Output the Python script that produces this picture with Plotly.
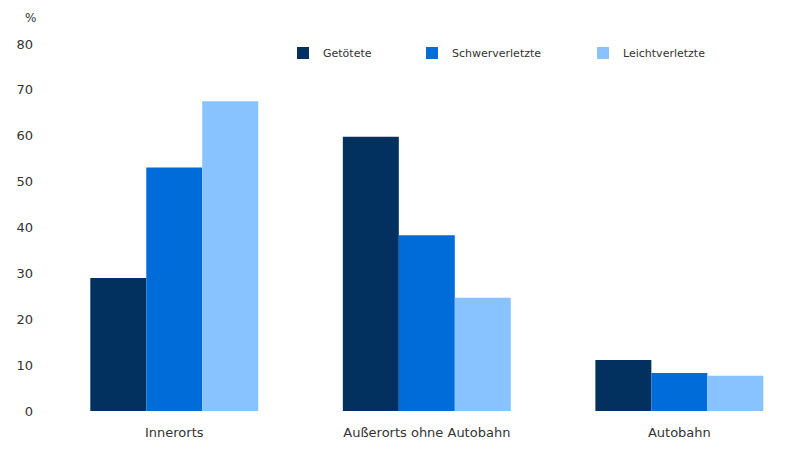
import plotly.graph_objects as go

categories = ["Innerorts", "Außerorts ohne Autobahn", "Autobahn"]
series_names = ["Getötete", "Schwerverletzte", "Leichtverletzte"]
getoetete = [29.0, 59.8, 11.1]
schwerverletzte = [53.1, 38.3, 8.3]
leichtverletzte = [67.5, 24.7, 7.7]
y_ticks = [0, 10, 20, 30, 40, 50, 60, 70, 80]

colors = ["#02315F", "#006CD9", "#88C3FF"]
values = [getoetete, schwerverletzte, leichtverletzte]
legend_ids = ["legend", "legend2", "legend3"]
legend_x = [0.315, 0.4879, 0.7172]

font_family = "DejaVu Sans"
txt_color = "#333333"

# page body has an 8px margin; plot area spans x 48..794, y 44..411 on screen
ML, MT, PW, PH = 40, 36, 746, 367

fig = go.Figure()
for name, vals, col, lid in zip(series_names, values, colors, legend_ids):
    fig.add_trace(go.Bar(x=categories, y=vals, name=name, marker_color=col,
                         marker_line_width=0, legend=lid, showlegend=True))

layout_legends = {}
for lid, lx in zip(legend_ids, legend_x):
    layout_legends[lid] = dict(x=lx, y=0.9755, xanchor="left", yanchor="middle",
                               orientation="h", itemwidth=30, bgcolor="rgba(0,0,0,0)",
                               visible=True,
                               font=dict(family=font_family, size=11, color=txt_color))

fig.update_layout(
    width=794, height=450,
    margin=dict(l=ML, r=794 - ML - PW, t=MT, b=450 - MT - PH),
    showlegend=True,
    paper_bgcolor="white", plot_bgcolor="white",
    barmode="group", bargap=0.335, bargroupgap=0,
    font=dict(family=font_family, size=12, color=txt_color),
    xaxis=dict(range=[-0.5, 2.454], showgrid=False, showline=False, zeroline=False,
               ticks="", ticklabelstandoff=12, tickfont=dict(size=13, color=txt_color)),
    yaxis=dict(range=[0, 80], tickvals=y_ticks, showgrid=False, showline=False,
               zeroline=False, ticks="", ticklabelstandoff=14,
               tickfont=dict(size=13, color=txt_color)),
    annotations=[dict(text="%", x=(30 - 48) / PW, y=(411 - 18) / PH,
                      xref="paper", yref="paper", showarrow=False,
                      xanchor="center", yanchor="middle",
                      font=dict(size=12, color=txt_color))],
    **layout_legends,
)

fig.write_html("out.html")
